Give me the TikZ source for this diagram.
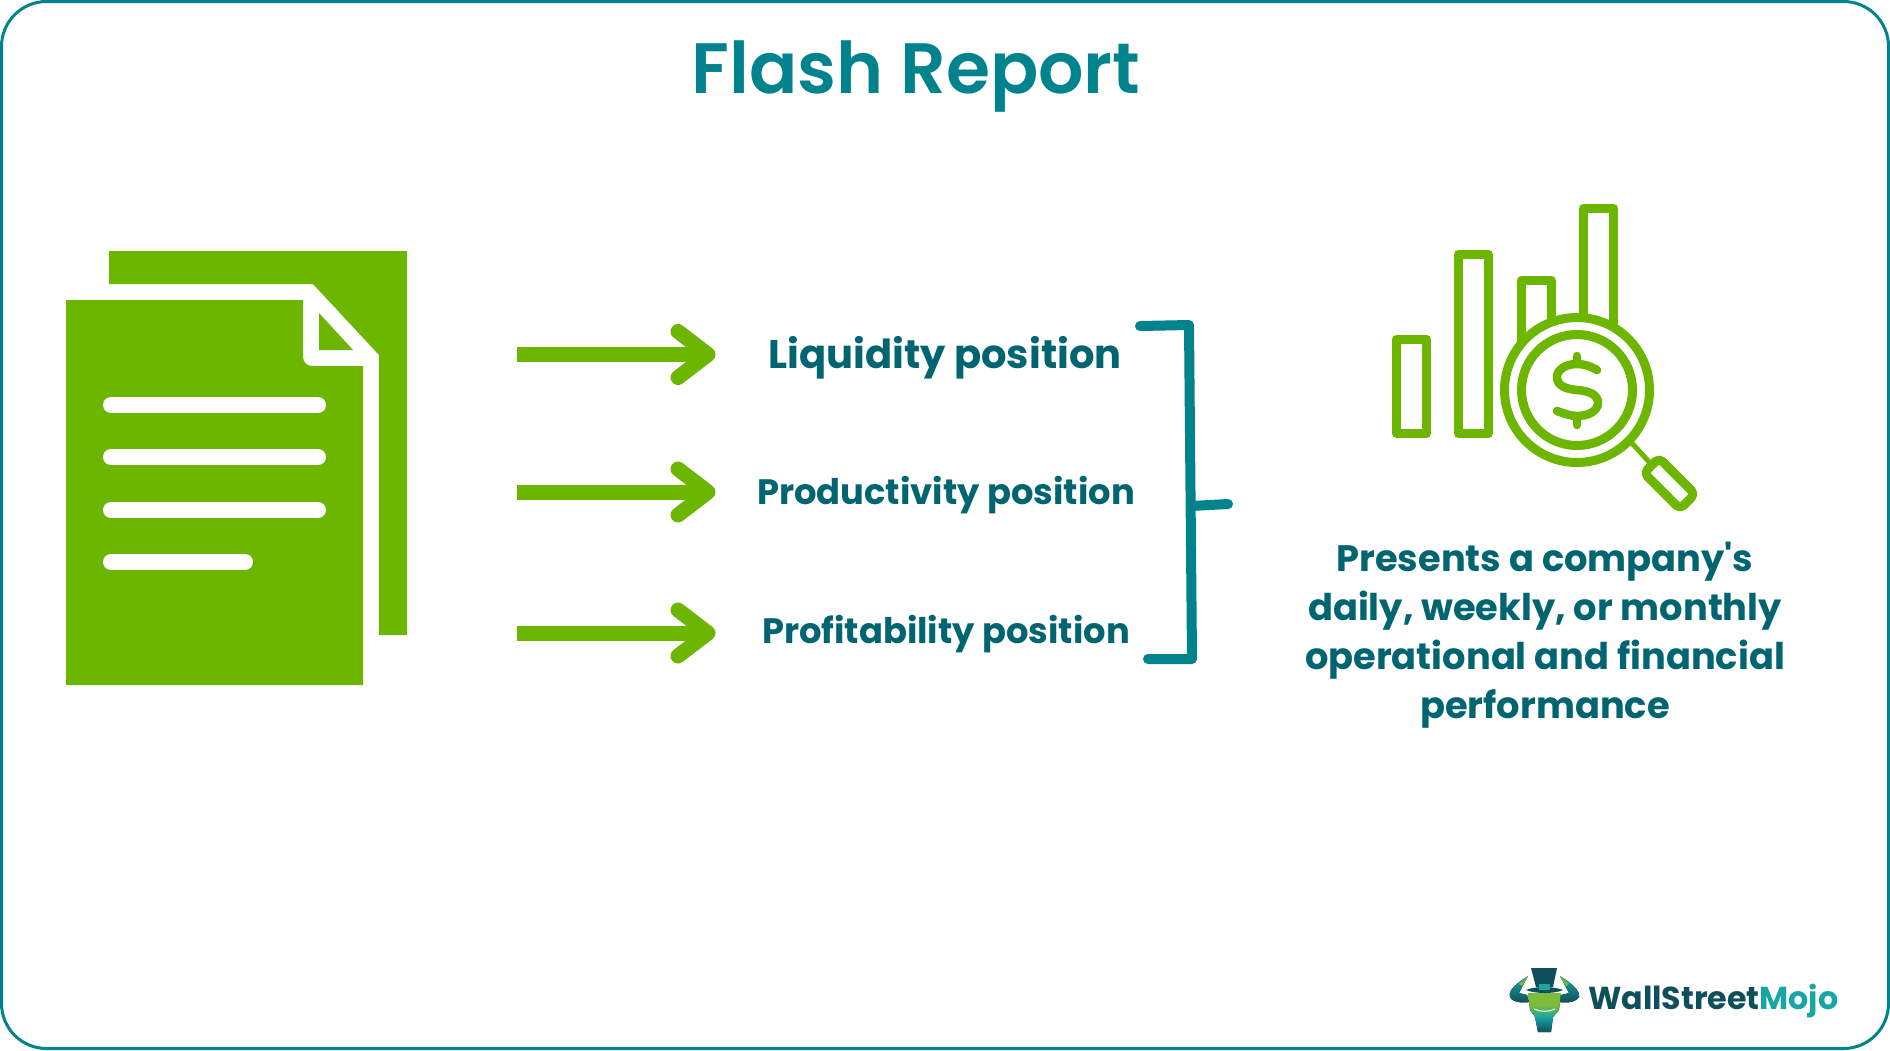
\documentclass[tikz,border=0pt]{standalone}
\usepackage{fontspec}
\setmainfont{Poppins}
\newfontfamily\plainpop{Poppins}
\newfontfamily\titlepop{Poppins SemiBold}
\usetikzlibrary{calc}
\definecolor{leaf}{HTML}{6CB600}
\definecolor{tealline}{HTML}{00838C}
\definecolor{tealtext}{HTML}{006570}
\definecolor{logodark}{HTML}{0F4F5A}
\definecolor{logoteal}{HTML}{17A5A5}
\definecolor{logoleaf}{HTML}{7DBB3A}
\tikzset{
  frame/.style={draw=tealline,line width=3pt,rounded corners=45pt,fill=white},
  label/.style={text=tealtext,font=\bfseries\fontsize{#1}{#1}\selectfont,align=center,inner sep=0pt},
  shaft/.style={draw=leaf,line width=15pt},
  head/.style={draw=leaf,line width=15pt,line cap=round,line join=round},
  brack/.style={draw=tealline,line width=10pt,line cap=round,line join=round},
  sheet/.style={fill=leaf},
  textline/.style={draw=white,line width=16pt,line cap=round},
  iconline/.style={draw=leaf,line width=9pt,line join=round,line cap=round},
}
\begin{document}
\begin{tikzpicture}[x=1pt,y=-1pt]
\useasboundingbox (0,0) rectangle (1890,1050);
\draw[frame] (1.5,1.5) rectangle (1888.5,1048.5);
\node[text=tealline,font=\titlepop\fontsize{71.3}{72}\selectfont,inner sep=0pt] (title) at (916,77) {Flash Report};

% documents
\fill[sheet] (109,251) -- (407,251) -- (407,635) -- (379,635) -- (379,355) -- (313,284) -- (109,284) -- cycle;
\fill[sheet] (66,300) -- (303,300) -- (303,357) .. controls (303,362) and (307,366) .. (312,366) -- (363,366) -- (363,685) -- (66,685) -- cycle;
\fill[sheet] (319,313) -- (319,350) -- (353,350) -- cycle;
\foreach \yy/\xx in {405/318,457/318,510/318,562/245}
  \draw[textline] (111,\yy) -- (\xx,\yy);

% arrows
\foreach \n/\yy in {1/354.5,2/492,3/633}{
  \coordinate (s\n) at (517,\yy);
  \coordinate (t\n) at (708,\yy);
  \draw[shaft] (s\n) -- (t\n);
  \draw[head] ($(t\n)+(-30,-23)$) -- (t\n) -- ($(t\n)+(-30,23)$);
}

% labels
\node[label=40] (l1) at (945,358) {Liquidity position};
\node[label=35.3] (l2) at (946,495) {Productivity position};
\node[label=35.3] (l3) at (946,634) {Profitability position};

% bracket
\coordinate (b1) at (1140,326);
\coordinate (b2) at (1189,325);
\coordinate (b3) at (1192,659);
\coordinate (b4) at (1148,659);
\coordinate (b5) at (1191,506);
\coordinate (b6) at (1228,504);
\draw[brack] (b1) -- (b2) -- (b3) -- (b4);
\draw[brack] (b5) -- (b6);

% chart icon
\draw[iconline] (1396.5,339.5) rectangle (1426.5,433.5);
\draw[iconline] (1458.5,254.5) rectangle (1488.5,433.5);
\draw[iconline] (1521.5,400) -- (1521.5,280.5) -- (1551.5,280.5) -- (1551.5,400);
\draw[iconline] (1583.5,400) -- (1583.5,208.5) -- (1613.5,208.5) -- (1613.5,400);
\draw[iconline,fill=white] (1577,390) circle (72.5);
\draw[iconline] (1577,390) circle (55.5);
\draw[draw=leaf,line width=5pt] (1630,441) -- (1650,463);
\draw[iconline,rounded corners=5pt] (1659,458) -- (1695,494) -- (1680,509) -- (1644,473) -- cycle;
\draw[iconline,line width=8.5pt] (1597,370) .. controls (1590,366) and (1584,364) .. (1577,364)
  .. controls (1565,364) and (1557,370) .. (1557,377) .. controls (1557,386) and (1566,389) .. (1577,390)
  .. controls (1590,391) and (1598,395) .. (1598,403) .. controls (1598,411) and (1588,416) .. (1577,416)
  .. controls (1570,416) and (1563,413) .. (1557,411);
\draw[iconline,line width=8.5pt] (1577,356) -- (1577,363);
\draw[iconline,line width=8.5pt] (1577,418) -- (1577,425);

\node[text=tealtext,font=\plainpop\bfseries\fontsize{36.8}{49}\selectfont,align=center,inner sep=0pt] (desc) at (1545,635.5)
  {Presents a company's\\daily, weekly, or monthly\\operational and financial\\performance};

% logo
\fill[top color=logoteal,bottom color=logodark] (1528,976) .. controls (1516,984) and (1508,990) .. (1510,997) .. controls (1513,1003) and (1524,1003) .. (1529,1002) -- (1527,995) -- (1519,993) -- cycle;
\fill[top color=logoteal,bottom color=logodark] (1560,976) .. controls (1572,984) and (1580,990) .. (1579,997) .. controls (1575,1003) and (1565,1003) .. (1559,1002) -- (1561,995) -- (1569,993) -- cycle;
\fill[logoleaf] (1528,976) -- (1522,986) -- (1519,984) -- cycle;
\fill[logoleaf] (1560,976) -- (1566,986) -- (1569,984) -- cycle;
\fill[logodark] (1531,968) -- (1557,968) -- (1553,987) -- (1536,987) -- cycle;
\fill[top color=logoleaf,bottom color=logoteal,middle color=logoleaf] (1528,993) -- (1561,993) -- (1559,1010) -- (1553,1017) -- (1535,1017) -- (1530,1010) -- cycle;
\fill[top color=logoteal,bottom color=logodark] (1535,1017) -- (1553,1017) -- (1551,1032) -- (1538,1032) -- cycle;
\fill[logodark] (1526,990) .. controls (1535,986) and (1553,986) .. (1563,990) .. controls (1555,994) and (1535,994) .. (1526,990) -- cycle;
\fill[logoteal] (1539,984) rectangle (1550,990);
\draw[white,line width=1pt] (1534,1009) .. controls (1540,1012) and (1549,1012) .. (1555,1009);
\node[anchor=west,inner sep=0pt,font=\bfseries\fontsize{31.7}{32}\selectfont,text=logodark] (logo) at (1588,1001) {WallStreet\textcolor{logoteal}{Mojo}};
\end{tikzpicture}
\end{document}
